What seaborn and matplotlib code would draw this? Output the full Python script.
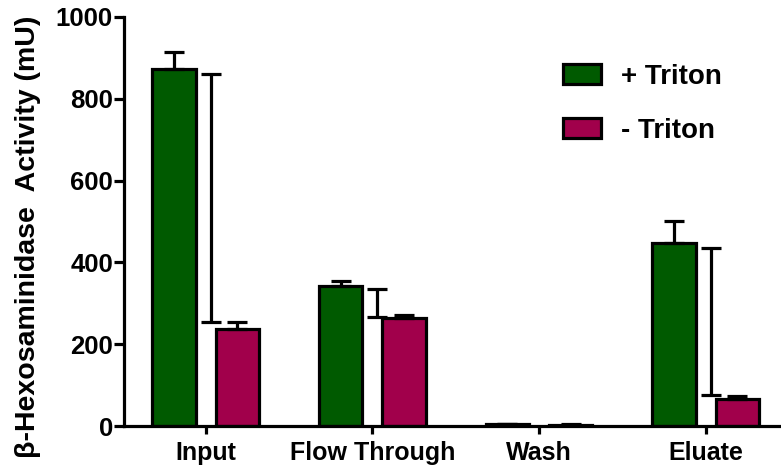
import matplotlib
matplotlib.use("Agg")
import matplotlib.pyplot as plt
from matplotlib.patches import Patch
import seaborn as sns
import pandas as pd
import numpy as np

categories = ["Input", "Flow Through", "Wash", "Eluate"]
series = ["+ Triton", "- Triton"]
plus_triton = [874, 342, 4, 447]
plus_triton_err = [40, 13, 2, 54]
minus_triton = [238, 263, 3, 66]
minus_triton_err = [16, 8, 2, 8]
bracket_low = [254, 266, np.nan, 77]
bracket_high = [861, 334, np.nan, 434]
yticks = [0, 200, 400, 600, 800, 1000]
colors = ["#005A00", "#A1004B"]
ylabel = "β-Hexosaminidase  Activity (mU)"

sns.set_style("ticks", {"axes.edgecolor": "black", "text.color": "black",
                        "xtick.color": "black", "ytick.color": "black",
                        "axes.labelcolor": "black"})
plt.rcParams["font.family"] = ["Liberation Sans", "DejaVu Sans"]
plt.rcParams["font.weight"] = "bold"

df = pd.DataFrame({
    "fraction": categories * 2,
    "activity": plus_triton + minus_triton,
    "treatment": [series[0]] * 4 + [series[1]] * 4,
})

fig = plt.figure(figsize=(7.81, 4.68), dpi=100)
ax = fig.add_axes([124 / 781, 1 - 426 / 468, (779 - 124) / 781, (426 - 17) / 468])

sns.barplot(data=df, x="fraction", y="activity", hue="treatment", order=categories,
            hue_order=series, palette=colors, width=0.76, gap=0.316,
            edgecolor="black", linewidth=2.3, errorbar=None, ax=ax, legend=False,
            saturation=1)

lw = 2.3
errs = [plus_triton_err, minus_triton_err]
vals = [plus_triton, minus_triton]
for cont, v, e in zip(ax.containers, vals, errs):
    xs = [p.get_x() + p.get_width() / 2 for p in cont.patches]
    ax.errorbar(xs, v, yerr=[np.zeros(len(e)), e], fmt="none", ecolor="black",
                elinewidth=lw, capsize=7.5, capthick=lw, zorder=3)

xpos = np.arange(len(categories)) + 0.03
lo = np.array(bracket_low, dtype=float)
hi = np.array(bracket_high, dtype=float)
ax.errorbar(xpos, (lo + hi) / 2, yerr=(hi - lo) / 2, fmt="none", ecolor="black",
            elinewidth=lw, capsize=7.5, capthick=lw, zorder=3)

ax.set_xlim(-0.49, 3.44)
ax.set_ylim(0, 1000)
ax.set_yticks(yticks)
ax.set_yticklabels([str(t) for t in yticks])
sns.despine(ax=ax)
for s in ["left", "bottom"]:
    ax.spines[s].set_linewidth(lw)
    ax.spines[s].set_color("black")
ax.tick_params(axis="y", length=7, width=lw, pad=1, labelsize=18.5, colors="black")
ax.tick_params(axis="x", length=6, width=lw, pad=5, labelsize=18, colors="black")
for lab in ax.get_xticklabels() + ax.get_yticklabels():
    lab.set_fontweight("bold")
ax.set_xlabel("")
ax.set_ylabel(ylabel, fontsize=20.5, fontweight="bold", color="black")
ax.yaxis.set_label_coords(-0.127, 0.462)

handles = [Patch(facecolor=c, edgecolor="black", linewidth=lw, label=s)
           for c, s in zip(colors, series)]
leg = ax.legend(handles=handles, loc="upper left", frameon=False,
                bbox_to_anchor=(563 / 781, 1 - 64 / 468), bbox_transform=fig.transFigure,
                borderpad=0, borderaxespad=0, handlelength=1.35, handleheight=0.75,
                handletextpad=0.75, labelspacing=1.0,
                prop={"size": 20, "weight": "bold"})
for t in leg.get_texts():
    t.set_color("black")

fig.savefig("out.png", dpi=100)
